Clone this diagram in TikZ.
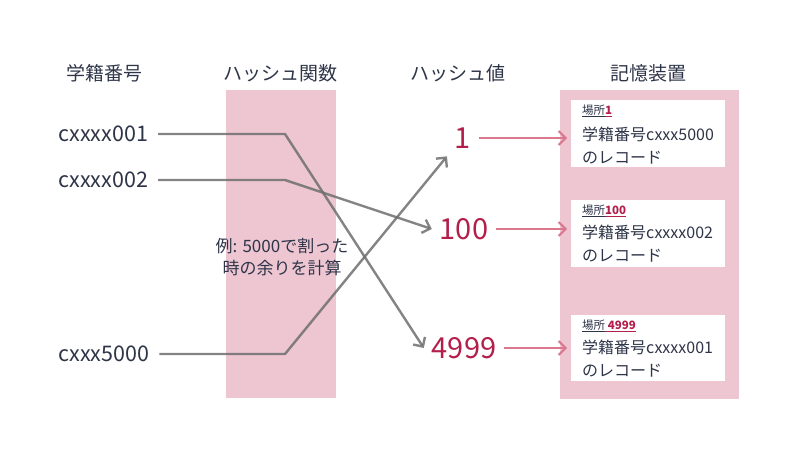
\documentclass[tikz,border=0pt]{standalone}
\usepackage{fontspec}
\setmainfont{Noto Sans CJK JP}
\usetikzlibrary{arrows.meta}
\definecolor{navy}{HTML}{2E3548}
\definecolor{crim}{HTML}{B31E4A}
\definecolor{pinkbg}{HTML}{EDC6D2}
\definecolor{pinkarr}{HTML}{D9788F}
\definecolor{grayln}{HTML}{6E6E6E}
\newcommand\myul[2]{\setbox0\hbox{#2}\rlap{\color{#1}\rule[-2.2pt]{\wd0}{1.3pt}}\box0}
\tikzset{
  hdr/.style={font=\fontsize{19}{22}\selectfont, text=navy, inner sep=0pt},
  key/.style={font=\fontsize{21.5}{24}\selectfont, text=navy, inner sep=0pt},
  num/.style={font=\fontsize{29}{32}\selectfont, text=crim, inner sep=0pt, outer sep=8pt},
  strip/.style={fill=pinkbg, draw=none},
  rec/.style={fill=white, draw=none},
  recsmall/.style={font=\fontsize{11.5}{13}\selectfont, text=navy, inner sep=0pt, anchor=west},
  rectext/.style={font=\fontsize{16}{23}\selectfont, text=navy, inner sep=0pt, anchor=north west, align=left},
  hashln/.style={draw=grayln, draw opacity=0.85, line width=2.4pt, -{Straight Barb[length=7pt,width=14pt]}, line join=round},
  pinkln/.style={draw=pinkarr, line width=2pt, -{Straight Barb[length=7pt,width=14pt]}},
}
\begin{document}
\begin{tikzpicture}[x=1pt,y=-1pt]
\useasboundingbox (0,0) rectangle (800,450);
% strips
\path[strip] (226,90) rectangle (336,398);
\path[strip] (560,90) rectangle (739,399);
% headers
\node[hdr] (h1) at (104,73) {学籍番号};
\node[hdr] (h2) at (280,73) {ハッシュ関数};
\node[hdr] (h3) at (458,73) {ハッシュ値};
\node[hdr] (h4) at (648,73) {記憶装置};
% keys
\node[key, anchor=west] (k1) at (58,134) {cxxxx001};
\node[key, anchor=west] (k2) at (58,180) {cxxxx002};
\node[key, anchor=west] (k3) at (58,354) {cxxx5000};
% hash function text
\node[font=\fontsize{17}{22}\selectfont, text=navy, align=center, inner sep=0pt] (hf) at (282,257) {例: 5000で割った\\時の余りを計算};
% hash values
\node[num] (v1) at (463,138) {1};
\node[num] (v100) at (464,229) {100};
\node[num] (v4999) at (464,348) {4999};
% bends
\coordinate (b1) at (285,134);
\coordinate (b2) at (285,180);
\coordinate (b3) at (285,354);
% records
\path[rec] (571,100) rectangle (725,167);
\path[rec] (571,200) rectangle (725,267);
\path[rec] (571,315) rectangle (725,381);
\node[recsmall] (r1a) at (582,111) {\myul{navy}{場所}\myul{crim}{\textcolor{crim}{\textbf{1}}}};
\node[rectext] (r1b) at (582,126.5) {学籍番号cxxx5000\\のレコード};
\node[recsmall] (r2a) at (582,211) {\myul{navy}{場所}\myul{crim}{\textcolor{crim}{\textbf{100}}}};
\node[rectext] (r2b) at (582,224.5) {学籍番号cxxxx002\\のレコード};
\node[recsmall] (r3a) at (582,326) {\myul{navy}{場所}\myul{crim}{\textcolor{crim}{\ \textbf{4999}}}};
\node[rectext] (r3b) at (582,339.5) {学籍番号cxxxx001\\のレコード};
\coordinate (e1) at (567,138);
\coordinate (e2) at (567,229);
\coordinate (e3) at (567,348);
% hash lines
\draw[hashln] ([xshift=10pt]k1.east) -- (b1) -- (v4999.west);
\draw[hashln] ([xshift=10pt]k2.east) -- (b2) -- (v100.west);
\draw[hashln] ([xshift=10pt]k3.east) -- (b3) -- (v1.south west);
% pink arrows
\draw[pinkln] (v1.east) -- (e1);
\draw[pinkln] (v100.east) -- (e2);
\draw[pinkln] (v4999.east) -- (e3);
\end{tikzpicture}
\end{document}
